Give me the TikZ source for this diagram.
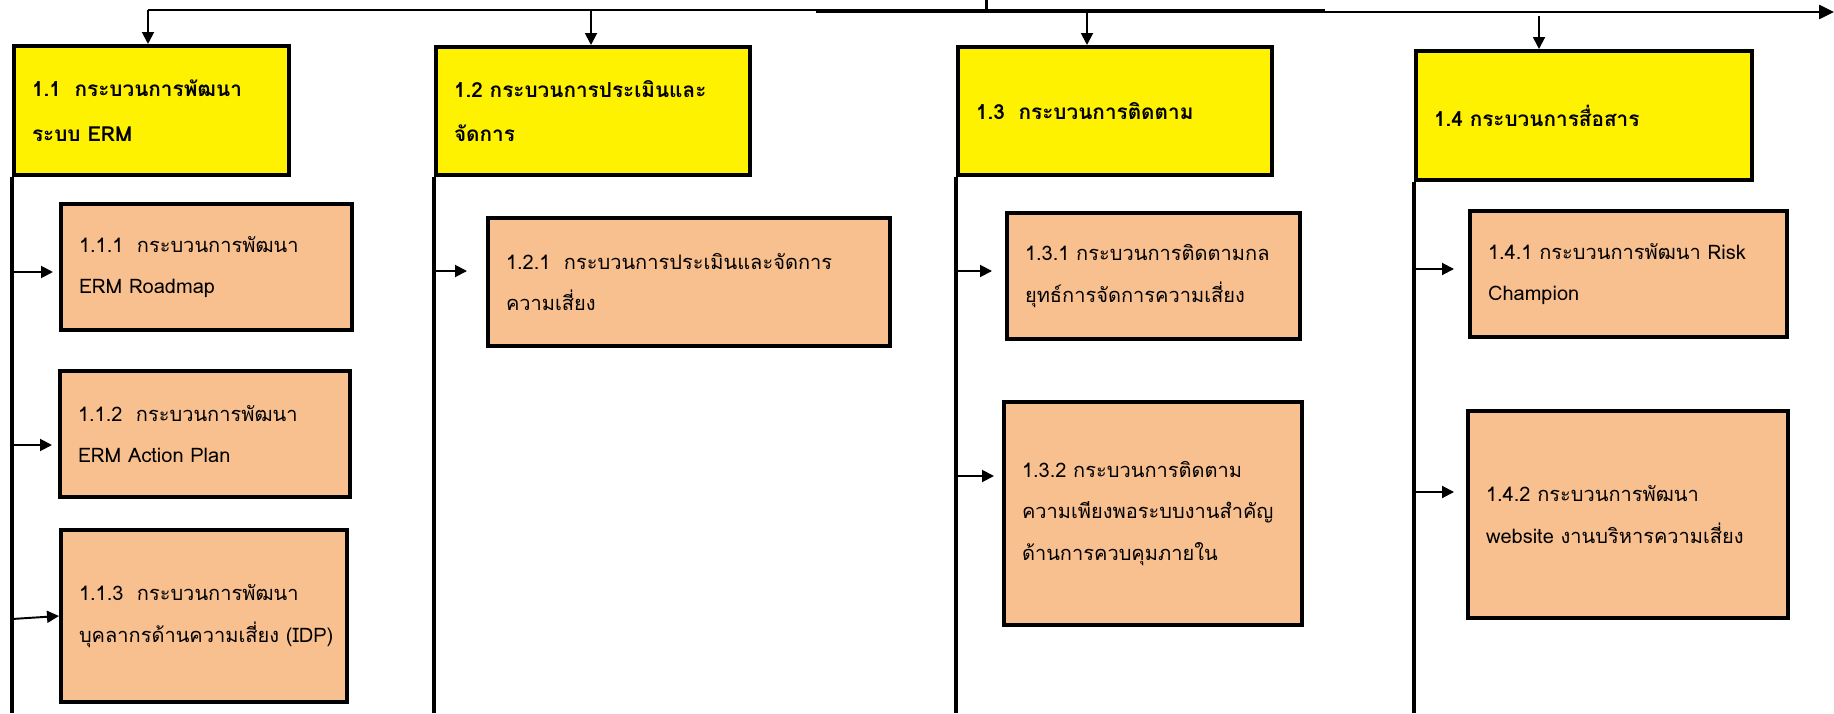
\documentclass[tikz,border=0pt]{standalone}
\usepackage{fontspec}
\newfontfamily\thaifont[Script=Thai]{Loma}
\usepackage{tikz}
\usetikzlibrary{arrows.meta}
\definecolor{peach}{RGB}{248,191,143}
\tikzset{
	headbox/.style={draw, line width=2.3pt, fill=yellow, anchor=north west, align=left, inner xsep=0.36cm, font=\thaifont\bfseries\fontsize{11.8}{25.5}\selectfont},
	subbox/.style={draw, line width=2.3pt, fill=peach, anchor=north west, align=left, inner xsep=0.36cm, font=\thaifont\fontsize{11.4}{23.5}\selectfont},
	trunk/.style={line width=2.8pt},
	tip/.style={line width=1.1pt, -{Triangle[length=0.24cm, width=0.24cm]}},
}

\begin{document}
\begin{tikzpicture}[x=0.02cm, y=-0.02cm]
	\useasboundingbox (0,0) rectangle (1834,713);
	
	% the four main processes
	\node[headbox, minimum width=5.50cm, minimum height=2.58cm, text width=4.78cm] (y11) at (12,44) {1.1\ \ กระบวนการพัฒนา\\ระบบ~ERM};
	\node[headbox, minimum width=6.28cm, minimum height=2.56cm, text width=5.56cm] (y12) at (434,45) {1.2~กระบวนการประเมินและ\\จัดการ};
	\node[headbox, minimum width=6.28cm, minimum height=2.56cm, text width=5.56cm] (y13) at (956,45) {1.3\ \ กระบวนการติดตาม};
	\node[headbox, minimum width=6.72cm, minimum height=2.58cm, text width=6.00cm] (y14) at (1414,49) {1.4~กระบวนการสื่อสาร};
	
	% sub processes
	\node[subbox, minimum width=5.82cm, minimum height=2.52cm, text width=5.10cm] (s111) at (59,202) {1.1.1\ \ กระบวนการพัฒนา\\ERM~Roadmap};
	\node[subbox, minimum width=5.80cm, minimum height=2.52cm, text width=5.08cm] (s112) at (58,369) {1.1.2\ \ กระบวนการพัฒนา\\ERM~Action~Plan};
	\node[subbox, minimum width=5.72cm, minimum height=3.44cm, text width=5.00cm] (s113) at (59,528) {1.1.3\ \ กระบวนการพัฒนา\\บุคลากรด้านความเสี่ยง~(IDP)};
	\node[subbox, minimum width=8.04cm, minimum height=2.56cm, text width=7.32cm] (s121) at (486,216) {1.2.1\ \ กระบวนการประเมินและจัดการ\\ความเสี่ยง};
	\node[subbox, minimum width=5.86cm, minimum height=2.52cm, text width=5.14cm] (s131) at (1005,211) {1.3.1~กระบวนการติดตามกล\\ยุทธ์การจัดการความเสี่ยง};
	\node[subbox, minimum width=5.96cm, minimum height=4.46cm, text width=5.24cm] (s132) at (1002,400) {1.3.2~กระบวนการติดตาม\\ความเพียงพอระบบงานสำคัญ\\ด้านการควบคุมภายใน};
	\node[subbox, minimum width=6.34cm, minimum height=2.52cm, text width=5.62cm] (s141) at (1468,209) {1.4.1~กระบวนการพัฒนา~Risk\\Champion};
	\node[subbox, minimum width=6.40cm, minimum height=4.14cm, text width=5.68cm] (s142) at (1466,409) {1.4.2~กระบวนการพัฒนา\\website~งานบริหารความเสี่ยง};
	
	% top line with the arrows down
	\coordinate (t11) at (148,10);
	\coordinate (t12) at (591,10);
	\coordinate (t13) at (1087,12);
	\coordinate (t14) at (1539,16);
	\draw[line width=1.7pt] (986,0) -- (986,10);
	\draw[line width=1.1pt] (t11) -- (t12);
	\draw[line width=1.7pt] (t12) -- (1325,10);
	\draw[line width=1.4pt, -{Triangle[length=0.3cm, width=0.28cm]}] (816,12) -- (1834,12);
	\foreach \t/\y in {t11/y11, t12/y12, t13/y13, t14/y14}
		\draw[tip] (\t) -- (\t |- \y.north);
	
	% trunks down the left side
	\foreach \y in {y11, y12, y13, y14}
		\draw[trunk] (\y.south west) -- (\y.south west |- 0,713);
	
	% small arrows into the sub boxes
	\coordinate (a111) at (12,272);
	\coordinate (a112) at (12,445);
	\coordinate (a113) at (12,619);
	\coordinate (a121) at (435,271);
	\coordinate (a131) at (957,271);
	\coordinate (a132) at (957,476);
	\coordinate (a141) at (1416,269);
	\coordinate (a142) at (1416,492);
	\foreach \a/\s/\g in {a111/s111/0.12, a112/s112/0.12, a121/s121/0.38, a131/s131/0.26, a132/s132/0.16, a141/s141/0.28, a142/s142/0.24}
		\draw[tip, shorten >=\g cm] (\a) -- (\a -| \s.west);
	\draw[tip] (a113) -- (s113.west |- 0,616);
	
\end{tikzpicture}
\end{document}
